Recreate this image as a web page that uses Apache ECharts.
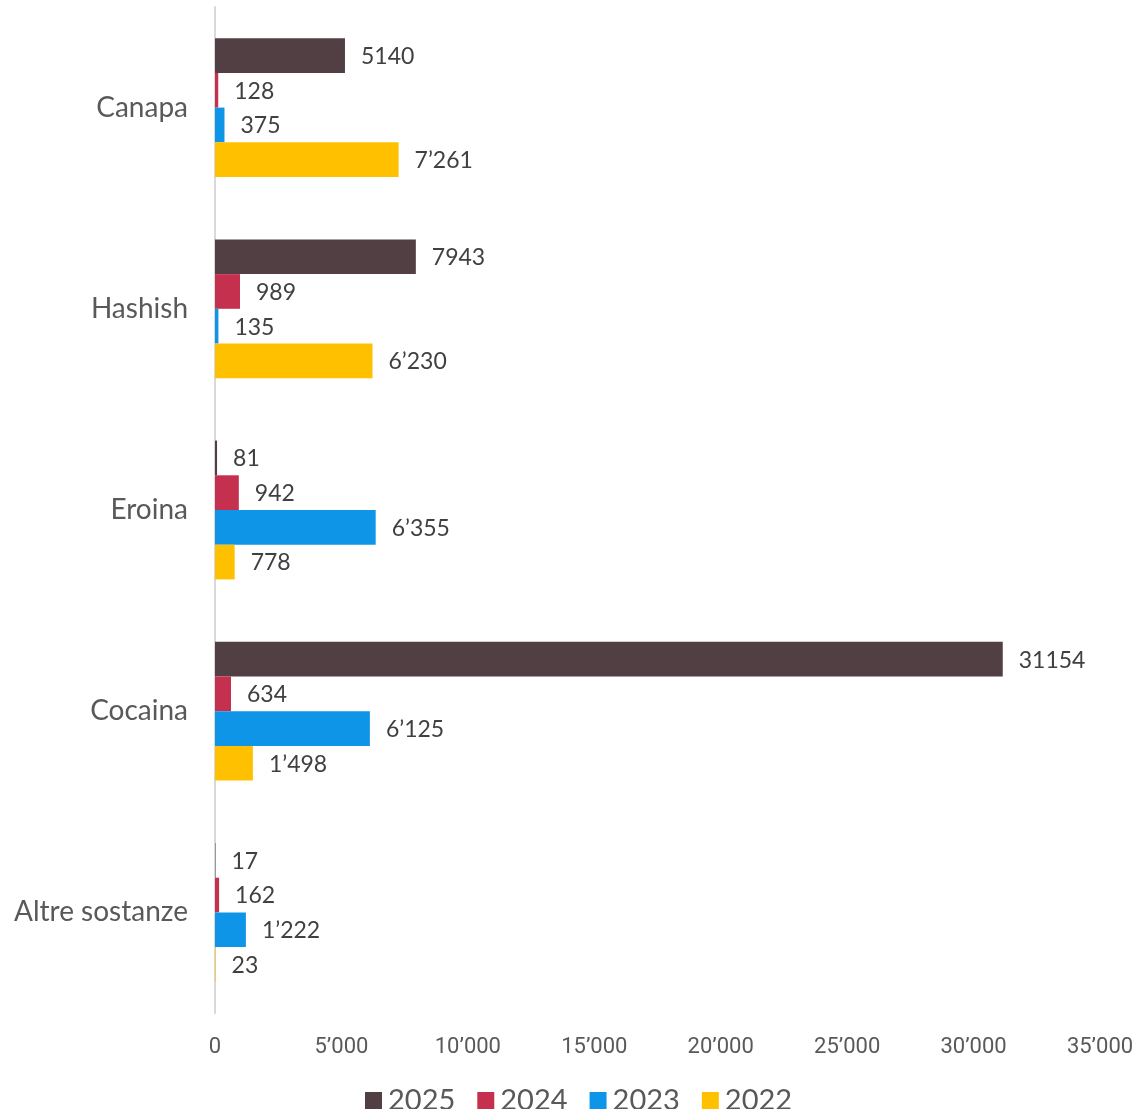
<!DOCTYPE html>
<html><head><meta charset="utf-8">
<script src="https://cdn.jsdelivr.net/npm/echarts@6/dist/echarts.min.js"></script>
<style>html,body{margin:0;padding:0;background:#fff}#c{width:1137px;height:1109px}</style>
</head><body><div id="c"></div>
<script>
const categories = ['Canapa', 'Hashish', 'Eroina', 'Cocaina', 'Altre sostanze'];
const seriesNames = ['2025', '2024', '2023', '2022'];
const v2025 = [5140, 7943, 81, 31154, 17];
const v2024 = [128, 989, 942, 634, 162];
const v2023 = [375, 135, 6355, 6125, 1222];
const v2022 = [7261, 6230, 778, 1498, 23];
const xTicks = [0, 5000, 10000, 15000, 20000, 25000, 30000, 35000];
const colors = ['#523f44', '#c5304f', '#0f95e8', '#ffc000'];
const values = [v2025, v2024, v2023, v2022];

function sep(n){ return String(n).replace(/\B(?=(\d{3})+(?!\d))/g, '\u2019'); }

const chart = echarts.init(document.getElementById('c'));
chart.setOption({
  animation: false,
  grid: { left: 215, right: 37, top: 7, bottom: 96, containLabel: false },
  legend: {
    top: 1081, left: 360, itemWidth: 17, itemHeight: 17, itemGap: 22,
    icon: 'rect',
    textStyle: { fontFamily: 'Lato', fontSize: 29, color: '#595959', padding: [0,0,0,1] },
    data: seriesNames
  },
  xAxis: {
    type: 'value', min: xTicks[0], max: xTicks[xTicks.length - 1], interval: 5000,
    splitLine: { show: false },
    axisLine: { show: false }, axisTick: { show: false },
    axisLabel: { fontFamily: 'Liberation Sans Narrow, Roboto', fontSize: 22, color: '#595959', margin: 23,
      formatter: v => sep(v) }
  },
  yAxis: {
    type: 'category', data: categories, inverse: true,
    axisLine: { show: true, lineStyle: { color: '#d9d9d9', width: 2 } },
    axisTick: { show: false },
    axisLabel: { fontFamily: 'Lato', fontSize: 28, color: '#595959', margin: 27 }
  },
  series: seriesNames.map((n, i) => ({
    name: n, type: 'bar', data: values[i],
    barGap: '0%', barCategoryGap: '31%',
    itemStyle: { color: colors[i] },
    label: { show: true, position: 'right', distance: 16, offset: [0, 1],
      fontFamily: 'Lato', fontSize: 23, color: '#404040',
      formatter: p => i === 0 ? String(p.value) : sep(p.value) }
  }))
});
</script></body></html>
